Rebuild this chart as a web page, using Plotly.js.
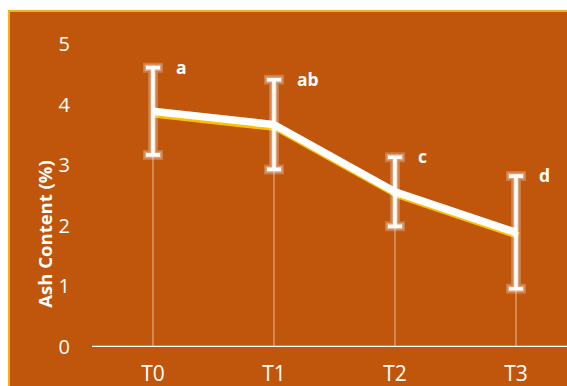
<!DOCTYPE html>
<html>
<head>
<meta charset="utf-8">
<script src="https://cdn.plot.ly/plotly-3.0.1.min.js"></script>
<style>
  html, body { margin: 0; padding: 0; background: #ffffff; width: 567px; height: 386px; overflow: hidden; }
  #frame { position: absolute; left: 8px; top: 10px; width: 620px; height: 420px; background: #C0560C;
           border-top: 2px solid #F5B01E; border-left: 2px solid #F5B01E; box-sizing: border-box; }
  #chart { position: absolute; left: 0; top: 0; width: 567px; height: 386px; }
</style>
</head>
<body>
<div id="frame"></div>
<div id="chart"></div>
<script>
// Ash content per treatment (mean ± SD) with significance letters
const treatments = ['T0', 'T1', 'T2', 'T3'];
const ashMean = [3.89, 3.67, 2.56, 1.89];
const ashSD = [0.72, 0.74, 0.57, 0.93];
const groupLetters = ['a', 'ab', 'c', 'd'];
const yTicks = [0, 1, 2, 3, 4, 5];

const WHITE = '#ffffff';
const GOLD = '#FFC000';
const FONT = '"Open Sans", Lato, sans-serif';

const xRange = [-0.504, 3.402];
const yRange = [0, 5];

// x/y   : visible axes (ticks, drop lines)
// x2/y2 : same scales nudged right/down, carries the gold shadow
// x3/y3 : same scales as x/y, drawn on top, carries the white marks
function bars(color, thickness, width, axes) {
  return Object.assign({
    x: treatments, y: ashMean, type: 'scatter', mode: 'markers',
    marker: { opacity: 0, size: 1 }, showlegend: false, hoverinfo: 'skip',
    error_y: { type: 'data', array: ashSD, visible: true, color: color, thickness: thickness, width: width }
  }, axes);
}
const SHADOW = { xaxis: 'x2', yaxis: 'y2' };
const TOP = { xaxis: 'x3', yaxis: 'y3' };

const traces = [
  // drop lines from each point to the axis
  {
    x: treatments, y: ashMean, type: 'scatter', mode: 'markers',
    marker: { opacity: 0, size: 1 }, showlegend: false, hoverinfo: 'skip',
    error_y: { type: 'percent', symmetric: false, value: 0, valueminus: 100, visible: true,
               color: 'rgba(255,255,255,0.38)', thickness: 1.6, width: 0 }
  },
  // gold offset shadow of the mean line
  Object.assign({
    x: treatments, y: ashMean, type: 'scatter', mode: 'lines',
    line: { color: GOLD, width: 7 }, showlegend: false, hoverinfo: 'skip'
  }, SHADOW),
  // soft glow around the error bars
  bars('rgba(255,255,255,0.22)', 10, 10, TOP),
  bars('rgba(255,255,255,0.3)', 6.5, 8.5, TOP),
  // mean line
  Object.assign({
    x: treatments, y: ashMean, type: 'scatter', mode: 'lines',
    line: { color: WHITE, width: 7.5 }, showlegend: false, hoverinfo: 'skip'
  }, TOP),
  bars(WHITE, 3.6, 7, TOP)
];

const annotations = treatments.map((t, i) => ({
  x: t, y: ashMean[i] + ashSD[i], xref: 'x', yref: 'y',
  text: groupLetters[i], showarrow: false, xanchor: 'left', yanchor: 'middle',
  xshift: 21, yshift: 1,
  font: { family: FONT, size: 17.5, color: WHITE, weight: 'bold' }
}));
annotations.push({
  xref: 'paper', yref: 'paper', x: -0.099, y: 0.38,
  text: '<b>Ash Content (%)</b>', textangle: -90, showarrow: false,
  xanchor: 'center', yanchor: 'middle',
  font: { family: FONT, size: 18.5, color: WHITE }
});

const hidden = (dom, anchor) => ({ range: yRange, domain: dom, visible: false, anchor: anchor });

const layout = {
  width: 567, height: 386,
  margin: { l: 92, r: 0, t: 44, b: 36.4, pad: 0 },
  paper_bgcolor: 'rgba(0,0,0,0)',
  plot_bgcolor: 'rgba(0,0,0,0)',
  showlegend: false,
  hovermode: false,
  font: { family: FONT, color: WHITE },
  xaxis: {
    type: 'category', categoryarray: treatments, range: xRange, domain: [0, 0.995],
    showgrid: false, zeroline: false, showline: false, ticks: '',
    tickfont: { family: FONT, size: 21, color: WHITE }, ticklabelstandoff: 12
  },
  yaxis: {
    range: yRange, domain: [0.01, 1], tickvals: yTicks, ticktext: yTicks.map(String),
    showgrid: false, zeroline: false, showline: false, ticks: '',
    tickfont: { family: FONT, size: 20, color: WHITE }, ticklabelstandoff: 21
  },
  xaxis2: {
    type: 'category', categoryarray: treatments, range: xRange, domain: [0.005, 1],
    visible: false, anchor: 'y2'
  },
  yaxis2: hidden([0, 0.99], 'x2'),
  xaxis3: {
    type: 'category', categoryarray: treatments, range: xRange, domain: [0, 0.995],
    visible: false, anchor: 'y3'
  },
  yaxis3: hidden([0.01, 1], 'x3'),
  shapes: [{
    type: 'line', xref: 'paper', yref: 'y', x0: 0, x1: 1, y0: 0, y1: 0,
    line: { color: WHITE, width: 2.6 }, layer: 'above'
  }],
  annotations: annotations
};

Plotly.newPlot('chart', traces, layout, { displayModeBar: false, staticPlot: true });
</script>
</body>
</html>
